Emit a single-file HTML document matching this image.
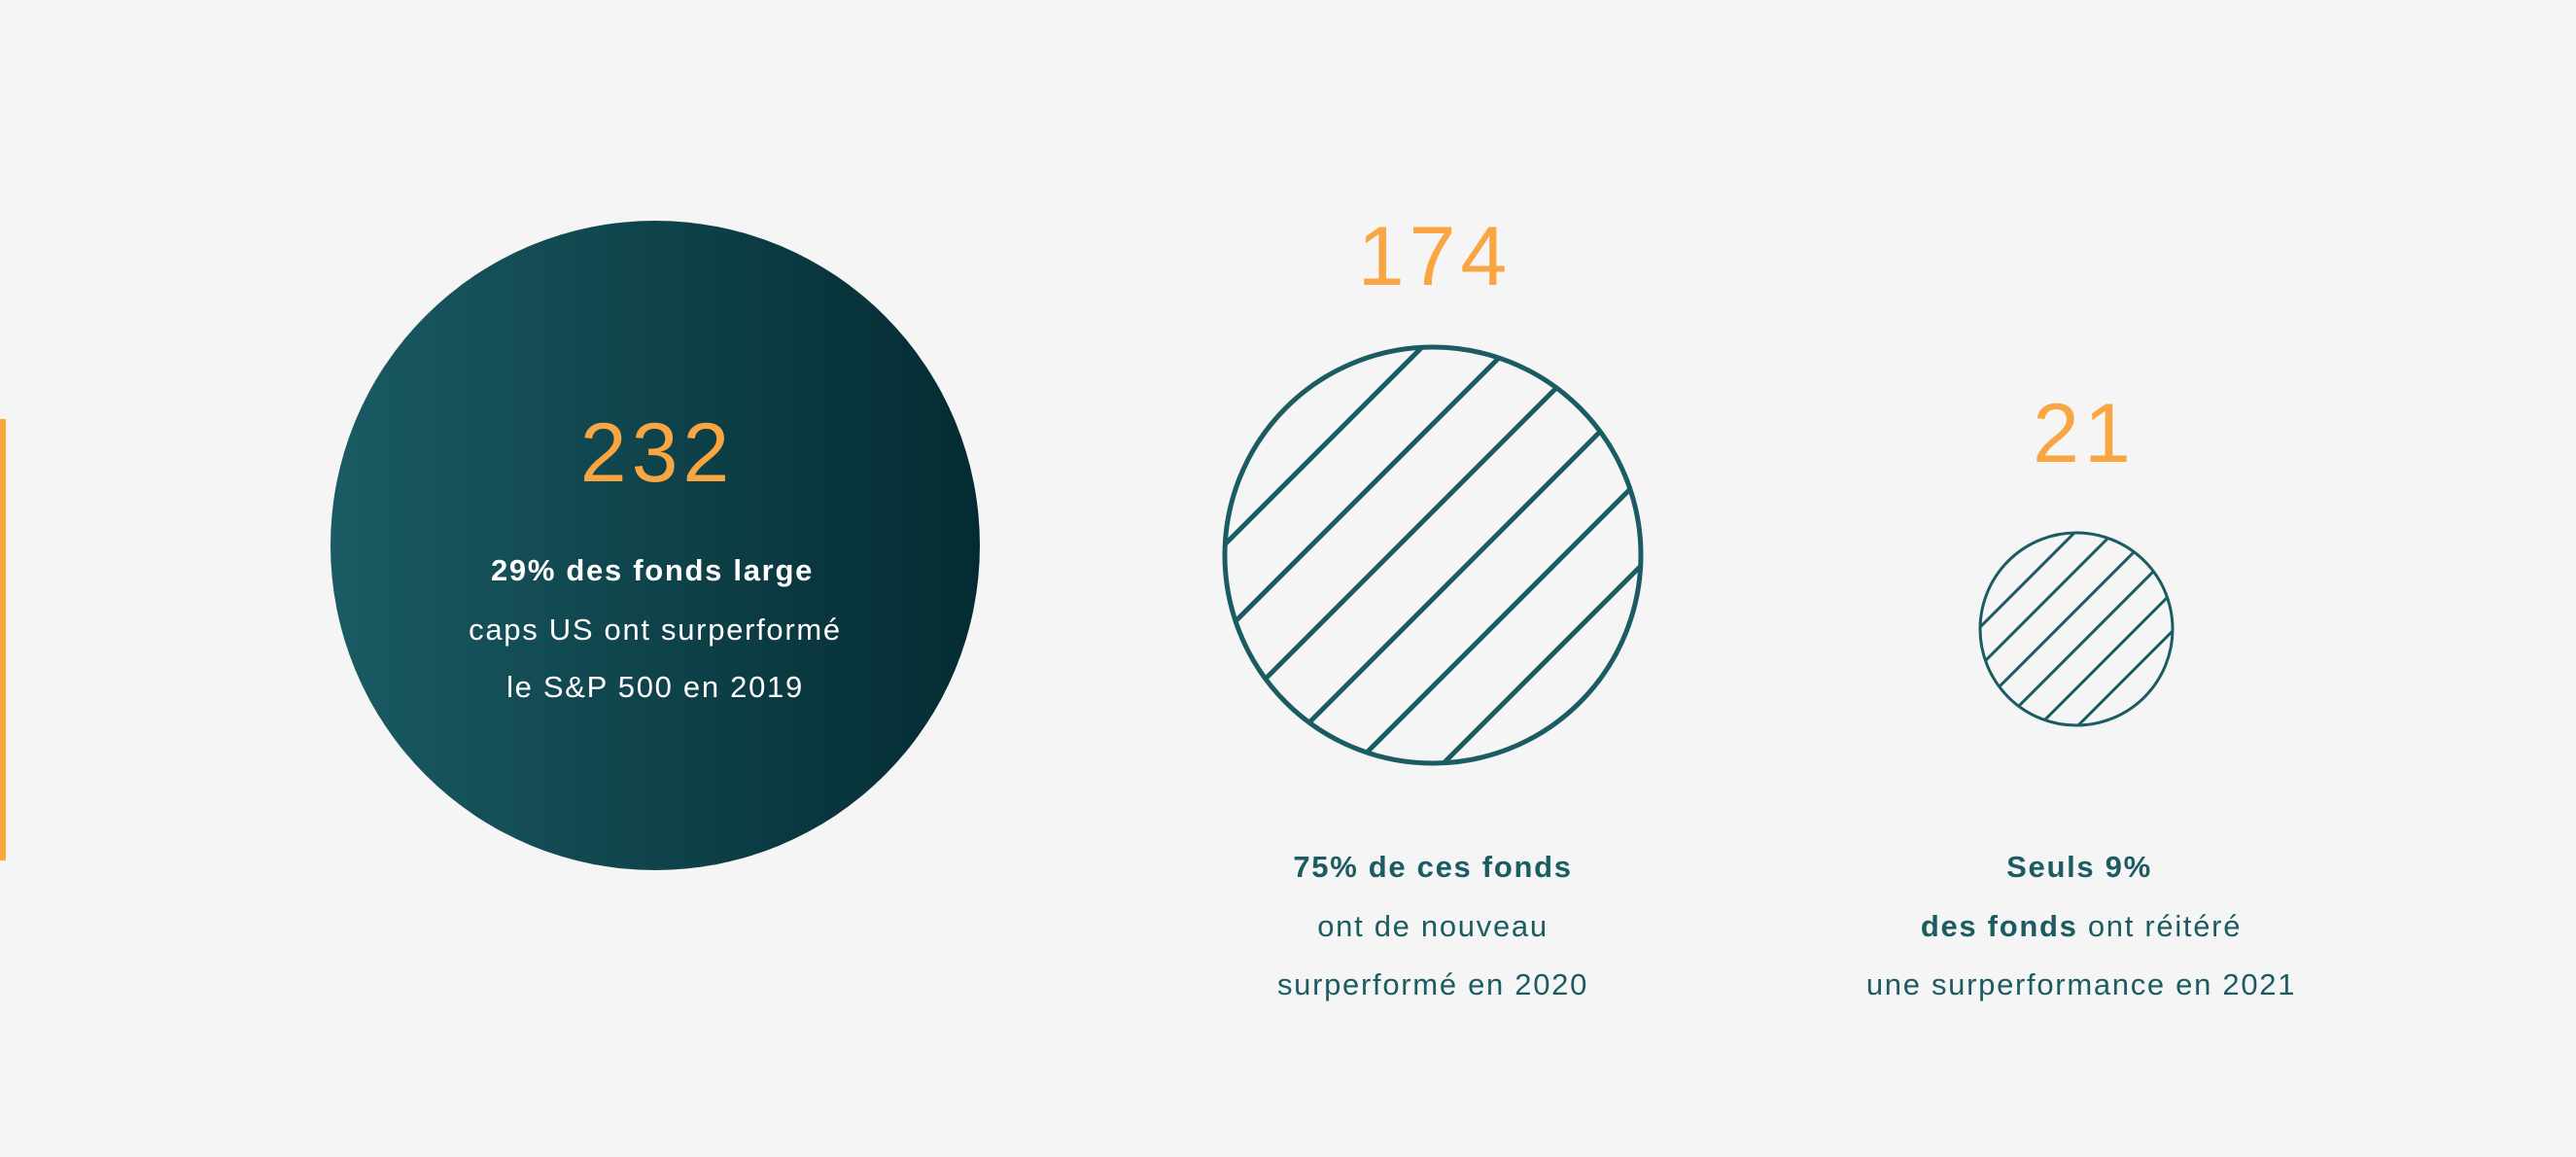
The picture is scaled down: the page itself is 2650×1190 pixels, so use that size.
<!DOCTYPE html>
<html><head><meta charset="utf-8"><style>
html,body{margin:0;padding:0;background:#f5f5f5;}
svg{display:block;}
text{font-family:"Liberation Sans",sans-serif;}
.cap text{letter-spacing:1.7px;}
.num{letter-spacing:5px;}
</style></head><body>
<svg id="chart" width="2650" height="1190" viewBox="0 0 2650 1190">
<defs>
<linearGradient id="g1" x1="0" y1="0" x2="1" y2="0">
<stop offset="0" stop-color="#1a5b64"/><stop offset="1" stop-color="#042b32"/>
</linearGradient>
<clipPath id="c2"><circle cx="1474" cy="571" r="214"/></clipPath>
<clipPath id="c3"><circle cx="2136" cy="647" r="99"/></clipPath>
</defs>
<rect x="0" y="431" width="6" height="454" fill="#f9a83e"/>
<circle cx="674" cy="561" r="334" fill="url(#g1)"/>
<g id="hatch2" clip-path="url(#c2)"></g>
<circle cx="1474" cy="571" r="214" fill="none" stroke="#1b5c63" stroke-width="5"/>
<g id="hatch3" clip-path="url(#c3)"></g>
<circle cx="2136" cy="647" r="99" fill="none" stroke="#1b5c63" stroke-width="3"/>

<text id="v0" class="num" x="676" y="495" text-anchor="middle" font-size="86" fill="#f9a541"></text>
<text id="v1" class="num" x="1476" y="293" text-anchor="middle" font-size="86" fill="#f9a541"></text>
<text id="v2" class="num" x="2144" y="475" text-anchor="middle" font-size="86" fill="#f9a541"></text>

<g class="cap" font-size="31" fill="#ffffff" text-anchor="middle">
<text x="671" y="597" font-weight="bold">29% des fonds large</text>
<text x="674" y="658">caps US ont surperformé</text>
<text x="674" y="717">le S&amp;P 500 en 2019</text>
</g>
<g class="cap" font-size="31" fill="#1b5c63" text-anchor="middle">
<text x="1474" y="902" font-weight="bold">75% de ces fonds</text>
<text x="1474" y="963">ont de nouveau</text>
<text x="1474" y="1023">surperformé en 2020</text>
</g>
<g class="cap" font-size="31" fill="#1b5c63" text-anchor="middle">
<text x="2139" y="902" font-weight="bold">Seuls 9%</text>
<text x="2141" y="963"><tspan font-weight="bold">des fonds</tspan> ont réitéré</text>
<text x="2141" y="1023">une surperformance en 2021</text>
</g>
</svg>
<script>
const categories = ["2019","2020","2021"];
const values = [232, 174, 21];
const hatchOffsets2 = [-225,-135,-45,45,135,225];
const hatchOffsets3 = [-101,-61,-20,20,61,101];
values.forEach((v,i)=>{document.getElementById('v'+i).textContent=v;});
const NS="http://www.w3.org/2000/svg";
function hatch(gid,cx,cy,r,offs,sw){
  const g=document.getElementById(gid);
  offs.forEach(o=>{
    const c=cx+cy+o;
    const l=document.createElementNS(NS,'line');
    
    
    l.setAttribute('x1',c-(cy+r+20));l.setAttribute('y1',cy+r+20);
    l.setAttribute('x2',c-(cy-r-20));l.setAttribute('y2',cy-r-20);
    l.setAttribute('stroke','#1b5c63');l.setAttribute('stroke-width',sw);
    g.appendChild(l);
  });
}
hatch('hatch2',1474,571,214,hatchOffsets2,5);
hatch('hatch3',2136,647,99,hatchOffsets3,3);
</script>
</body></html>
